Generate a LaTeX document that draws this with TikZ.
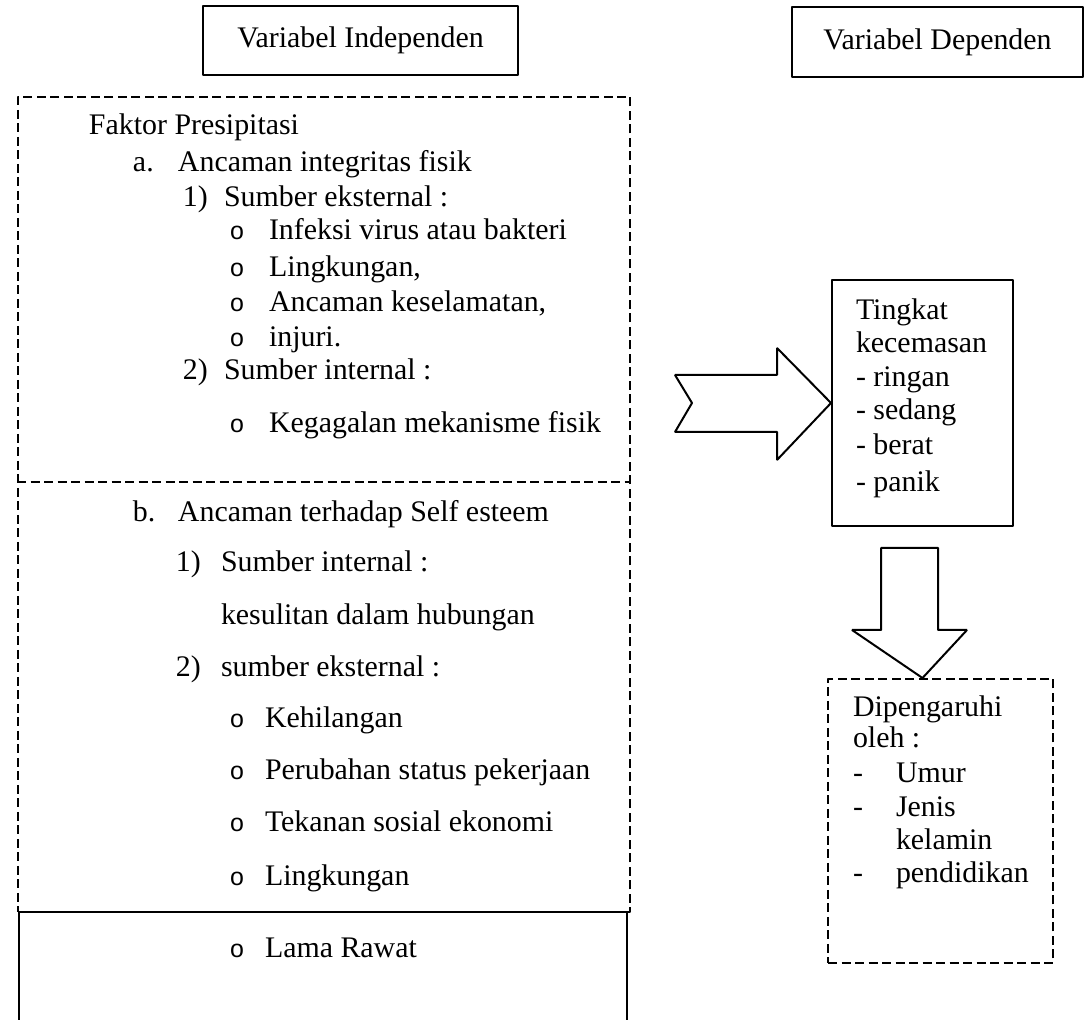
\documentclass[tikz,border=0pt]{standalone}
\usepackage{fontspec}
\setmainfont{Liberation Serif}
\newfontfamily\bulfont{Liberation Sans}
\begin{document}
\begin{tikzpicture}[>=latex,line join=bevel,line width=0.8pt,
  txt/.style={anchor=base west,inner sep=0pt,font=\fontsize{12}{14}\selectfont},
  bul/.style={anchor=base west,inner sep=0pt,font=\bulfont\fontsize{10}{12}\selectfont},
  solidbox/.style={draw,inner sep=0pt,font=\fontsize{12}{14}\selectfont},
  dashbox/.style={draw,dash pattern=on 3.6bp off 1.8bp,inner sep=0pt}]
\useasboundingbox (0bp,0bp) rectangle (434bp,408bp);
%%
\node (node_0) at (144.2bp,391.8bp) [solidbox,minimum width=126bp,minimum height=27.6bp] {Variabel Independen};
  \node (node_1) at (375.0bp,391.2bp) [solidbox,minimum width=116.4bp,minimum height=28bp] {Variabel Dependen};
  \node (node_2) at (129.6bp,206.2bp) [dashbox,minimum width=244.8bp,minimum height=326bp] {};
  \node (node_3) at (129.2bp,20.1bp) [solidbox,minimum width=243bp,minimum height=46.2bp] {};
  \node (node_4) at (369.0bp,246.8bp) [solidbox,minimum width=72.4bp,minimum height=98.4bp] {};
  \node (node_5) at (376.2bp,79.6bp) [dashbox,minimum width=90bp,minimum height=113.6bp] {};
  \coordinate (div) at (0bp,215.2bp);
  \draw [dashbox] (node_2.west |- div) -- (node_2.east |- div);
%% faktor presipitasi
  \node (node_6) at (35.2bp,354.0bp) [txt] {Faktor Presipitasi};
  \node (node_7) at (52.8bp,339.2bp) [txt] {a.};
  \node (node_8) at (70.8bp,339.2bp) [txt] {Ancaman integritas fisik};
  \node (node_9) at (72.8bp,325.2bp) [txt] {1)};
  \node (node_10) at (89.2bp,325.2bp) [txt] {Sumber eksternal :};
  \node (node_11) at (91.6bp,312.0bp) [bul] {o};
  \node (node_12) at (107.2bp,312.0bp) [txt] {Infeksi virus atau bakteri};
  \node (node_13) at (91.6bp,297.2bp) [bul] {o};
  \node (node_14) at (107.2bp,297.2bp) [txt] {Lingkungan,};
  \node (node_15) at (91.6bp,283.2bp) [bul] {o};
  \node (node_16) at (107.2bp,283.2bp) [txt] {Ancaman keselamatan,};
  \node (node_17) at (91.6bp,269.2bp) [bul] {o};
  \node (node_18) at (107.2bp,269.2bp) [txt] {injuri.};
  \node (node_19) at (72.8bp,256.0bp) [txt] {2)};
  \node (node_20) at (89.2bp,256.0bp) [txt] {Sumber internal :};
  \node (node_21) at (91.6bp,234.8bp) [bul] {o};
  \node (node_22) at (107.2bp,234.8bp) [txt] {Kegagalan mekanisme fisik};
  \node (node_23) at (52.8bp,199.2bp) [txt] {b.};
  \node (node_24) at (70.8bp,199.2bp) [txt] {Ancaman terhadap Self esteem};
  \node (node_25) at (70.0bp,179.2bp) [txt] {1)};
  \node (node_26) at (88.0bp,179.2bp) [txt] {Sumber internal :};
  \node (node_27) at (88.0bp,158.0bp) [txt] {kesulitan dalam hubungan};
  \node (node_28) at (70.0bp,137.2bp) [txt] {2)};
  \node (node_29) at (88.0bp,137.2bp) [txt] {sumber eksternal :};
  \node (node_30) at (91.6bp,116.8bp) [bul] {o};
  \node (node_31) at (105.6bp,116.8bp) [txt] {Kehilangan};
  \node (node_32) at (91.6bp,96.0bp) [bul] {o};
  \node (node_33) at (105.6bp,96.0bp) [txt] {Perubahan status pekerjaan};
  \node (node_34) at (91.6bp,75.2bp) [bul] {o};
  \node (node_35) at (105.6bp,75.2bp) [txt] {Tekanan sosial ekonomi};
  \node (node_36) at (91.6bp,53.6bp) [bul] {o};
  \node (node_37) at (105.6bp,53.6bp) [txt] {Lingkungan};
  \node (node_38) at (91.6bp,25.2bp) [bul] {o};
  \node (node_39) at (105.6bp,25.2bp) [txt] {Lama Rawat};
%% tingkat kecemasan
  \node (node_40) at (342.0bp,280.0bp) [txt] {Tingkat};
  \node (node_41) at (342.0bp,266.8bp) [txt] {kecemasan};
  \node (node_42) at (342.0bp,253.2bp) [txt] {- ringan};
  \node (node_43) at (342.0bp,240.0bp) [txt] {- sedang};
  \node (node_44) at (342.0bp,226.0bp) [txt] {- berat};
  \node (node_45) at (342.0bp,211.2bp) [txt] {- panik};
%% dipengaruhi
  \node (node_46) at (340.8bp,121.2bp) [txt] {Dipengaruhi};
  \node (node_47) at (340.8bp,108.8bp) [txt] {oleh :};
  \node (node_48) at (340.8bp,94.8bp) [txt] {-};
  \node (node_49) at (358.0bp,94.8bp) [txt] {Umur};
  \node (node_50) at (340.8bp,81.2bp) [txt] {-};
  \node (node_51) at (358.0bp,81.2bp) [txt] {Jenis};
  \node (node_52) at (358.0bp,68.0bp) [txt] {kelamin};
  \node (node_53) at (340.8bp,54.8bp) [txt] {-};
  \node (node_54) at (358.0bp,54.8bp) [txt] {pendidikan};
%% block arrows
  \draw [black] (270.0bp,258.0bp) -- (310.8bp,258.0bp) -- (310.8bp,268.8bp) -- (node_4.west) -- (310.8bp,224.0bp) -- (310.8bp,235.2bp) -- (270.0bp,235.2bp) -- (276.8bp,246.8bp) -- cycle;
  \draw [black] (352.4bp,188.8bp) -- (375.2bp,188.8bp) -- (375.2bp,156.0bp) -- (386.8bp,156.0bp) -- (node_5.north -| node_4) -- (340.8bp,156.0bp) -- (352.4bp,156.0bp) -- cycle;
%
\end{tikzpicture}
\end{document}
